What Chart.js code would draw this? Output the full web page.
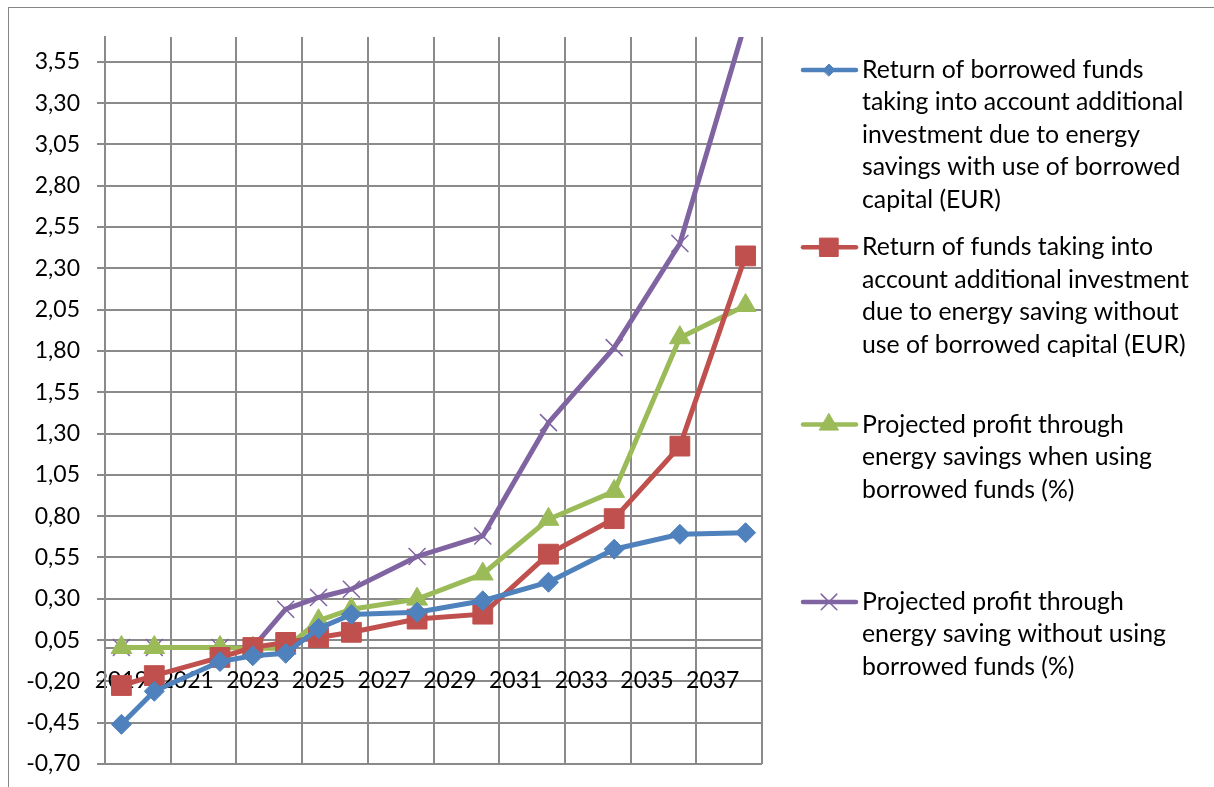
<!DOCTYPE html>
<html>
<head>
<meta charset="utf-8">
<script src="https://cdn.jsdelivr.net/npm/chart.js"></script>
<style>
    body { margin: 0; background: #fff; }
    #quadro { position: relative; width: 1214px; height: 787px; }
    #moldura { position: absolute; left: 8px; top: 7px; right: 0; bottom: 0; border-left: 1px solid #868686; border-top: 1px solid #868686; pointer-events: none; }
</style>
</head>
<body>
<div id="quadro">
    <canvas id="graficoRetorno"></canvas>
    <div id="moldura"></div>
</div>
<script>

const anos = ['2019', '2020', '2021', '2022', '2023', '2024', '2025', '2026', '2027', '2028',
              '2029', '2030', '2031', '2032', '2033', '2034', '2035', '2036', '2037', '2038'];

const retornoComEmprestimo = [-0.46, -0.26, null, -0.08, -0.045, -0.03, 0.12, 0.205, null, 0.218,
                              null, 0.288, null, 0.40, null, 0.60, null, 0.69, null, 0.70];

const retornoSemEmprestimo = [-0.225, -0.165, null, -0.055, 0.005, 0.036, 0.066, 0.097, null, 0.177,
                              null, 0.207, null, 0.57, null, 0.785, null, 1.224, null, 2.375];

const lucroComEmprestimo = [0.005, 0.005, null, 0.005, 0.0, 0.0, 0.167, 0.237, null, 0.298,
                            null, 0.45, null, 0.781, null, 0.95, null, 1.88, null, 2.075];

const lucroSemEmprestimo = [0.005, 0.005, null, 0.005, 0.005, 0.237, 0.308, 0.358, null, 0.556,
                            null, 0.68, null, 1.366, null, 1.82, null, 2.45, null, 3.79];

const marcasEixoY = [-0.70, -0.45, -0.20, 0.05, 0.30, 0.55, 0.80, 1.05, 1.30, 1.55,
                     1.80, 2.05, 2.30, 2.55, 2.80, 3.05, 3.30, 3.55];

const nomesSeries = [
    'Return of borrowed funds\ntaking into account additional\ninvestment due to energy\nsavings with use of borrowed\ncapital (EUR)',
    'Return of funds taking into\naccount additional investment\ndue to energy saving without\nuse of borrowed capital (EUR)',
    'Projected profit through\nenergy savings when using\nborrowed funds (%)',
    'Projected profit through\nenergy saving without using\nborrowed funds (%)'
];

let graficoRetorno;

const corGrade = '#8a8a8a';
const fonteEixos = { family: 'Lato', size: 23 };
const fonteLegenda = { family: 'Lato', size: 24.8 };


// legenda desenhada à direita, com quebras de linha como no original
const legendaDireita = {
    id: 'legendaDireita',
    afterDraw(chart) {
        const ctx = chart.ctx;
        const raiosLegenda = [6, 13, 11, 11];
        chart.data.datasets.forEach((ds, i) => {
            const yBase = 70 + i * 177.3;
            ctx.save();
            ctx.strokeStyle = ds.borderColor;
            ctx.lineWidth = 4.5;
            ctx.lineCap = 'round';
            ctx.beginPath();
            ctx.moveTo(803, yBase);
            ctx.lineTo(856, yBase);
            ctx.stroke();

            ctx.fillStyle = ds.pointBackgroundColor;
            ctx.strokeStyle = ds.pointBorderColor;
            ctx.lineWidth = ds.pointBorderWidth;
            Chart.helpers.drawPoint(ctx, {
                pointStyle: ds.pointStyle,
                radius: raiosLegenda[i],
                rotation: 0,
                borderWidth: ds.pointBorderWidth
            }, 829, yBase);

            ctx.fillStyle = '#000';
            ctx.font = fonteLegenda.size + 'px ' + fonteLegenda.family;
            ctx.textAlign = 'left';
            ctx.textBaseline = 'middle';
            ds.label.split('\n').forEach((linha, k) => {
                ctx.fillText(linha, 862, yBase + k * 32.5);
            });
            ctx.restore();
        });
    }
};


function criarSerie(rotulo, dados, cor, estilo, raio, bordaPonto) {
    return {
        label: rotulo,
        data: dados,
        borderColor: cor,
        backgroundColor: cor,
        borderWidth: 5,
        pointStyle: estilo,
        pointRadius: raio,
        pointHoverRadius: raio,
        pointBackgroundColor: cor,
        pointBorderColor: cor,
        pointBorderWidth: bordaPonto,
        tension: 0,
        spanGaps: true,
        clip: 0
    };
}


function carregarGraficoRetorno() {
    const ctx = document.getElementById('graficoRetorno').getContext('2d');

    if (graficoRetorno) {
        graficoRetorno.destroy();
    }

    graficoRetorno = new Chart(ctx, {
        type: 'line',
        data: {
            labels: anos,
            datasets: [
                criarSerie(nomesSeries[0], retornoComEmprestimo, '#4F81BD', 'rectRot', 10, 1),
                criarSerie(nomesSeries[1], retornoSemEmprestimo, '#C0504D', 'rect', 14, 1),
                criarSerie(nomesSeries[2], lucroComEmprestimo, '#9BBB59', 'triangle', 12, 1),
                criarSerie(nomesSeries[3], lucroSemEmprestimo, '#8064A2', 'crossRot', 12, 1.5)
            ]
        },
        options: {
            responsive: true,
            maintainAspectRatio: false,
            animation: false,
            layout: {
                padding: { left: 0, top: 37, right: 452, bottom: 23 }
            },
            plugins: {
                legend: { display: false },
                tooltip: { enabled: false }
            },
            scales: {
                x: {
                    type: 'category',
                    position: { y: 0 },
                    offset: true,
                    grid: {
                        offset: true,
                        color: (c) => (c.index === undefined || c.index % 2 === 0) ? corGrade : 'rgba(0,0,0,0)',
                        lineWidth: 2,
                        tickLength: 0
                    },
                    border: { display: true, color: corGrade, width: 2 },
                    ticks: {
                        autoSkip: false,
                        maxRotation: 0,
                        padding: 18,
                        color: '#000',
                        font: fonteEixos,
                        callback: function(valor, indice) {
                            return indice % 2 === 0 ? this.getLabelForValue(valor) : '';
                        }
                    },
                    afterFit: (escala) => {
                        escala.height = 0;
                        escala.paddingTop = 0;
                        escala.paddingBottom = 0;
                    }
                },
                y: {
                    min: -0.70,
                    max: 3.70,
                    grid: {
                        color: corGrade,
                        lineWidth: 2,
                        tickLength: 8
                    },
                    border: { display: true, color: corGrade, width: 2 },
                    afterBuildTicks: (escala) => {
                        escala.ticks = marcasEixoY.map(v => ({ value: v }));
                    },
                    ticks: {
                        padding: 17,
                        color: '#000',
                        font: fonteEixos,
                        callback: (valor) => valor.toFixed(2).replace('.', ',')
                    },
                    afterFit: (escala) => {
                        escala.width = 105;
                        escala.paddingTop = 0;
                        escala.paddingBottom = 0;
                    }
                }
            }
        },
        plugins: [legendaDireita]
    });
}


document.addEventListener('DOMContentLoaded', function() {
    carregarGraficoRetorno();
});
</script>
</body>
</html>
